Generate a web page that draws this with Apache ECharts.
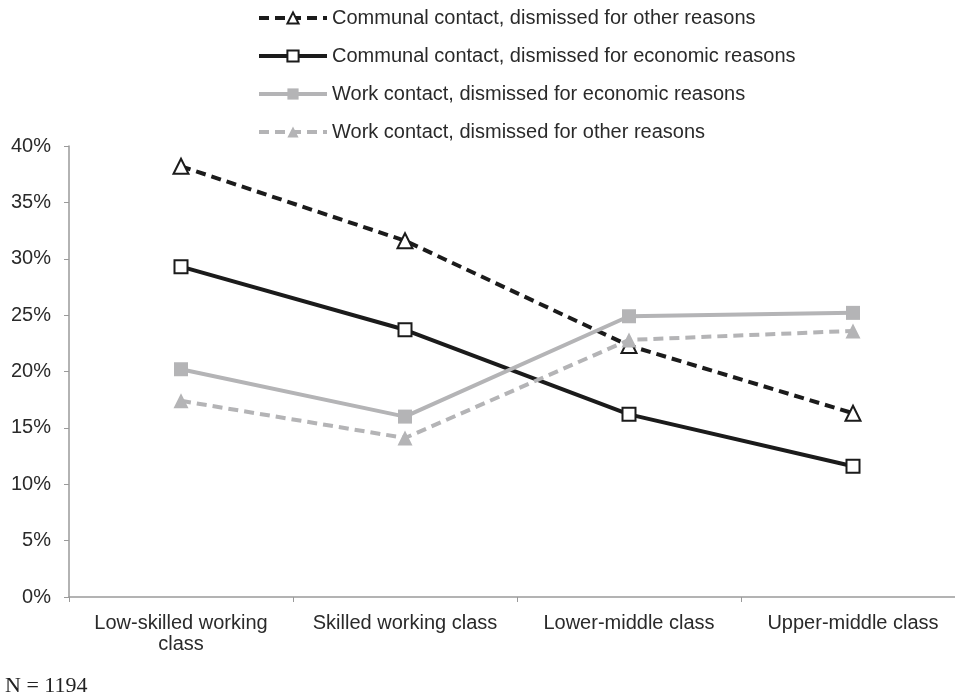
<!DOCTYPE html>
<html>
<head>
<meta charset="utf-8">
<script src="https://cdn.jsdelivr.net/npm/echarts@6/dist/echarts.min.js"></script>
<style>
  html, body { margin: 0; padding: 0; background: #fff; overflow: hidden; }
  /* the plot runs a little past the right edge of the picture, as in the original */
  #main { width: 965px; height: 695px; }
</style>
</head>
<body>
<div id="main"></div>
<script>
// classes on the x axis
var categories = ['Low-skilled working\nclass', 'Skilled working class', 'Lower-middle class', 'Upper-middle class'];

// shares in percent
var communalOther = [38.2, 31.6, 22.3, 16.3];
var communalEconomic = [29.3, 23.7, 16.2, 11.6];
var workEconomic = [20.2, 16.0, 24.9, 25.2];
var workOther = [17.4, 14.1, 22.8, 23.6];

var seriesNames = [
  'Communal contact, dismissed for other reasons',
  'Communal contact, dismissed for economic reasons',
  'Work contact, dismissed for economic reasons',
  'Work contact, dismissed for other reasons'
];

var BLACK = '#1b1b1b';
var GRAY = '#b4b4b6';

var myChart = echarts.init(document.getElementById('main'));

var option = {
  animation: false,
  backgroundColor: '#fff',
  textStyle: { fontFamily: 'Liberation Sans, Arial, sans-serif' },
  graphic: [
    {
      type: 'text',
      left: 5,
      top: 675,
      style: {
        text: 'N = 1194',
        fontFamily: 'Liberation Serif, Times New Roman, serif',
        fontSize: 22,
        fill: '#222'
      }
    }
  ],
  legend: {
    orient: 'vertical',
    left: 252,
    top: 3,
    itemWidth: 68,
    itemHeight: 14,
    itemGap: 18,
    data: seriesNames,
    lineStyle: { width: 4 },
    textStyle: { fontSize: 20, color: '#2a2a2a' }
  },
  grid: {
    left: 69,
    right: 0,
    top: 146,
    bottom: 98,
    containLabel: false
  },
  xAxis: {
    type: 'category',
    data: categories,
    boundaryGap: true,
    axisLine: { lineStyle: { color: '#9a9a9a', width: 1.5 } },
    axisTick: { show: true, length: 5, lineStyle: { color: '#9a9a9a' } },
    axisLabel: { fontSize: 20, color: '#2a2a2a', margin: 16, lineHeight: 21, interval: 0 },
    splitLine: { show: false }
  },
  yAxis: {
    type: 'value',
    min: 0,
    max: 40,
    interval: 5,
    axisLine: { show: true, lineStyle: { color: '#9a9a9a', width: 1.5 } },
    axisTick: { show: true, length: 5, lineStyle: { color: '#9a9a9a' } },
    axisLabel: { fontSize: 20, color: '#2a2a2a', margin: 18, formatter: '{value}%' },
    splitLine: { show: false }
  },
  series: [
    {
      name: seriesNames[0],
      type: 'line',
      data: communalOther,
      symbol: 'triangle',
      symbolSize: 15,
      lineStyle: { color: BLACK, width: 4, type: [10, 6] },
      itemStyle: { color: '#fff', borderColor: BLACK, borderWidth: 2 }
    },
    {
      name: seriesNames[1],
      type: 'line',
      data: communalEconomic,
      symbol: 'rect',
      symbolSize: 13,
      lineStyle: { color: BLACK, width: 4 },
      itemStyle: { color: '#fff', borderColor: BLACK, borderWidth: 2 }
    },
    {
      name: seriesNames[2],
      type: 'line',
      data: workEconomic,
      symbol: 'rect',
      symbolSize: 14,
      lineStyle: { color: GRAY, width: 4 },
      itemStyle: { color: GRAY }
    },
    {
      name: seriesNames[3],
      type: 'line',
      data: workOther,
      symbol: 'triangle',
      symbolSize: 15,
      lineStyle: { color: GRAY, width: 4, type: [10, 6] },
      itemStyle: { color: GRAY }
    }
  ]
};

myChart.setOption(option);
</script>
</body>
</html>
